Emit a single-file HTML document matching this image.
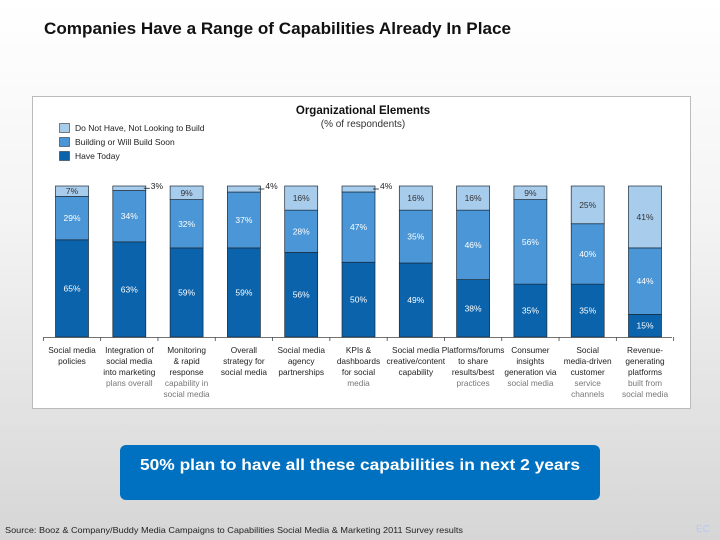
<!DOCTYPE html>
<html><head><meta charset="utf-8"><style>
html,body{margin:0;padding:0;width:720px;height:540px;overflow:hidden}
body{background:linear-gradient(#ffffff 0%,#f4f4f4 40%,#d6d6d6 100%);font-family:"Liberation Sans",sans-serif}
</style></head><body>
<svg id="s" width="720" height="540" xmlns="http://www.w3.org/2000/svg" style="position:absolute;left:0;top:0">
<text x="44" y="34" font-size="17" font-weight="bold" fill="#111" textLength="467" lengthAdjust="spacingAndGlyphs">Companies Have a Range of Capabilities Already In Place</text>
<rect x="32.5" y="96.5" width="658" height="312" fill="#fff" stroke="#bbb"/>
<text x="363" y="114" font-size="11.5" font-weight="bold" text-anchor="middle" fill="#111">Organizational Elements</text>
<text x="363" y="127" font-size="10" text-anchor="middle" fill="#333">(% of respondents)</text>
<g font-size="8.5" fill="#222">
<rect x="59.5" y="123.5" width="10" height="9" fill="#a8ccec" stroke="#333" stroke-width="0.6"/><text x="75" y="131">Do Not Have, Not Looking to Build</text>
<rect x="59.5" y="137.5" width="10" height="9" fill="#4a96d6" stroke="#333" stroke-width="0.6"/><text x="75" y="145">Building or Will Build Soon</text>
<rect x="59.5" y="151.5" width="10" height="9" fill="#0b63ac" stroke="#333" stroke-width="0.6"/><text x="75" y="159">Have Today</text>
</g>
<g id="plot"></g>
<rect x="120" y="445" width="480" height="55" rx="6" fill="#0070c0"/>
<text x="360" y="470" font-size="16" font-weight="bold" fill="#fff" text-anchor="middle" textLength="440" lengthAdjust="spacingAndGlyphs">50% plan to have all these capabilities in next 2 years</text>
<text x="5" y="533" font-size="8.5" fill="#222" textLength="458" lengthAdjust="spacingAndGlyphs">Source: Booz &amp; Company/Buddy Media Campaigns to Capabilities Social Media &amp; Marketing 2011 Survey results</text>
<text x="696" y="532" font-size="10" fill="#b8c8f0">EC</text>
</svg>
<script>
const categories=[["Social media","policies"],["Integration of","social media","into marketing","plans overall"],["Monitoring","& rapid","response","capability in","social media"],["Overall","strategy for","social media"],["Social media","agency","partnerships"],["KPIs &","dashboards","for social","media"],["Social media","creative/content","capability"],["Platforms/forums","to share","results/best","practices"],["Consumer","insights","generation via","social media"],["Social","media-driven","customer","service","channels"],["Revenue-","generating","platforms","built from","social media"]];
const haveToday=[65,63,59,59,56,50,49,38,35,35,15];
const buildingSoon=[29,34,32,37,28,47,35,46,56,40,44];
const notLooking=[7,3,9,4,16,4,16,16,9,25,41];
const ns="http://www.w3.org/2000/svg";
const g=document.getElementById('plot');
const top0=186,base=337,x0=72,step=57.3,bw=33;
const yScale=(v,tot)=>(base-top0)*v/tot;
const xC=i=>x0+i*step;
function mk(t,a){const e=document.createElementNS(ns,t);for(const k in a)e.setAttribute(k,a[k]);g.appendChild(e);return e;}
const cols=["#0b63ac","#4a96d6","#a8ccec"];
const series=[haveToday,buildingSoon,notLooking];
const sname=["have","building","not"];
for(let i=0;i<categories.length;i++){
  const tot=haveToday[i]+buildingSoon[i]+notLooking[i];
  let y=base;
  for(let s=0;s<3;s++){
    const v=series[s][i],h=yScale(v,tot);
    const r=mk('rect',{x:xC(i)-bw/2,y:y-h,width:bw,height:h,fill:cols[s],stroke:"#1a2a3a","stroke-width":0.7});
    
    
    let tx=xC(i),ty=y-h/2+3,anchor="middle",col=s==2?"#333":"#fff";
    if(h<8){tx=xC(i)+bw/2+3;ty=y-h+3;anchor="start";col="#222";
      const l=mk('line',{x1:xC(i)+bw/2-2,x2:xC(i)+bw/2+4,y1:y-h/2,y2:y-h/2,stroke:"#222","stroke-width":0.8});
      
      
      tx+=2;}
    else if(s==2&&h<14){ty=y-h/2+3;}
    const t=mk('text',{x:tx,y:ty,"font-size":8.5,"text-anchor":anchor,fill:col});
    t.textContent=v+"%";
    
    
    y-=h;
  }
  categories[i].forEach((ln,k)=>{
    const t=mk('text',{x:xC(i),y:353+k*11,"font-size":8.3,"text-anchor":"middle",fill:k>=3?"#777":"#222"});
    t.textContent=ln;
    
    
  });
}
const ax=mk('line',{x1:44,x2:672,y1:base+0.5,y2:base+0.5,stroke:"#444","stroke-width":0.8});


for(let i=0;i<=categories.length;i++){
  const tk=mk('line',{x1:xC(i)-step/2,x2:xC(i)-step/2,y1:base,y2:base+4,stroke:"#444","stroke-width":0.8});
  
  
}
</script>
</body></html>
